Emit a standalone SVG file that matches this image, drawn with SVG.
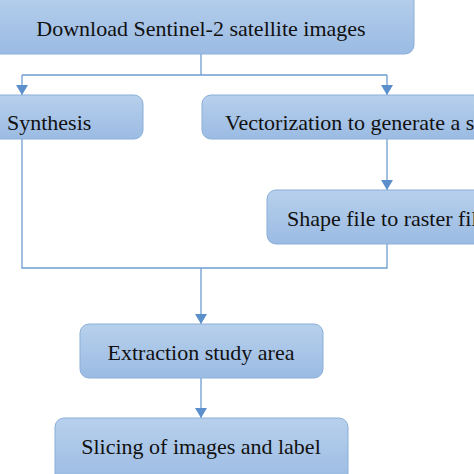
<svg xmlns="http://www.w3.org/2000/svg" width="474" height="474" viewBox="0 0 474 474">
<defs>
<linearGradient id="g" x1="0" y1="0" x2="0" y2="1">
<stop offset="0" stop-color="#b7d0ec"/>
<stop offset="1" stop-color="#9bbbe3"/>
</linearGradient>
<marker id="arr" viewBox="0 0 10 12" refX="10" refY="6" markerWidth="10" markerHeight="12" markerUnits="userSpaceOnUse" orient="auto">
<path d="M0,0 L10,6 L0,12 Z" fill="#5b8fcc"/>
</marker>
<style>
.box{fill:url(#g);stroke:#8aaed8;stroke-width:1}
.t{font-family:"Liberation Serif","Times New Roman",serif;font-size:22px;fill:#111}
.c{fill:none;stroke:#6e9dd2;stroke-width:1.3}
</style>
</defs>
<rect width="474" height="474" fill="#ffffff"/>
<g id="connectors">
<path class="c" d="M201,54 V75 M22,75 H387"/>
<path class="c" d="M22,75 V95" marker-end="url(#arr)"/>
<path class="c" d="M387,75 V95" marker-end="url(#arr)"/>
<path class="c" d="M387,139 V190" marker-end="url(#arr)"/>
<path class="c" d="M22,139 V268 H387 V244"/>
<path class="c" d="M201,268 V324" marker-end="url(#arr)"/>
<path class="c" d="M201,378 V418" marker-end="url(#arr)"/>
</g>
<g id="n1">
<rect class="box" x="-12" y="-10" width="426" height="64" rx="9"/>
<text class="t" x="201" y="36" text-anchor="middle">Download Sentinel-2 satellite images</text>
</g>
<g id="n2">
<rect class="box" x="-100" y="95" width="243" height="44" rx="9"/>
<text class="t" x="7" y="130">Synthesis</text>
</g>
<g id="n3">
<rect class="box" x="202" y="95" width="300" height="44" rx="9"/>
<text class="t" x="225" y="130">Vectorization to generate a shape file</text>
</g>
<g id="n4">
<rect class="box" x="267" y="190" width="240" height="54" rx="9"/>
<text class="t" x="287" y="226">Shape file to raster file</text>
</g>
<g id="n5">
<rect class="box" x="80" y="324" width="243" height="54" rx="9"/>
<text class="t" x="201" y="360" text-anchor="middle">Extraction study area</text>
</g>
<g id="n6">
<rect class="box" x="55" y="418" width="293" height="66" rx="9"/>
<text class="t" x="201" y="454" text-anchor="middle">Slicing of images and label</text>
</g>
</svg>
